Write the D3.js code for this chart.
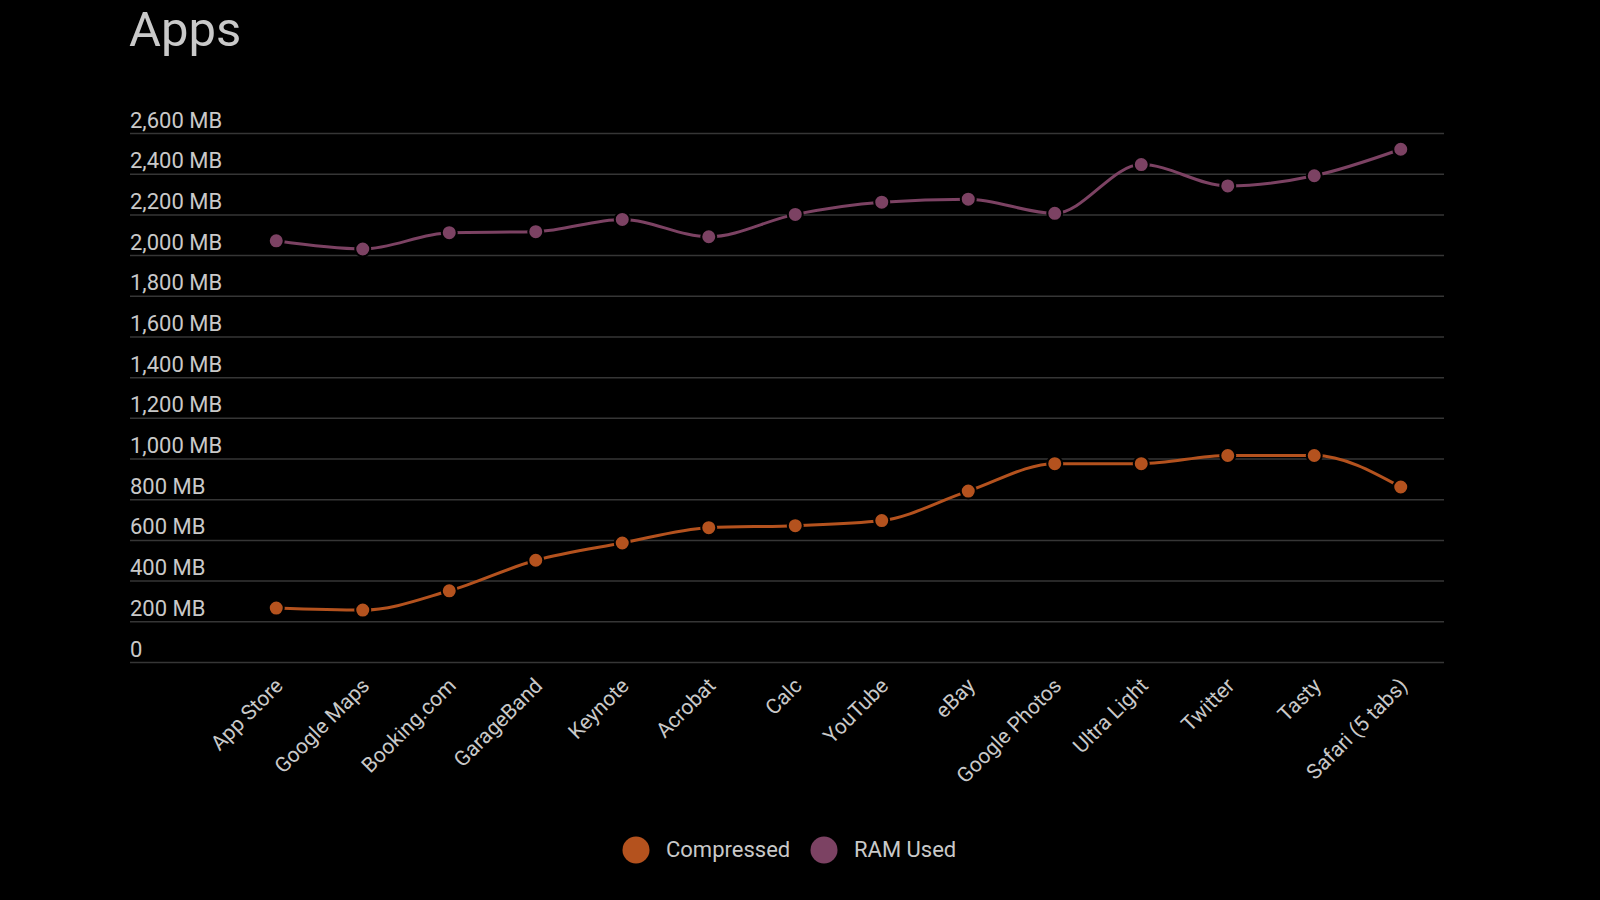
<!DOCTYPE html>
<html>
<head>
<meta charset="utf-8">
<script src="https://cdn.jsdelivr.net/npm/d3@7"></script>
<style>
  html, body { margin: 0; padding: 0; background: #000; }
  svg { display: block; }
  text { font-family: Roboto, "Noto Sans", sans-serif; }
</style>
</head>
<body>
<svg id="chart" width="1600" height="900"></svg>
<script>
var apps = ["App Store", "Google Maps", "Booking.com", "GarageBand", "Keynote", "Acrobat", "Calc",
  "YouTube", "eBay", "Google Photos", "Ultra Light", "Twitter", "Tasty", "Safari (5 tabs)"];
var compressed = [265, 255, 350, 500, 585, 660, 670, 695, 840, 975, 975, 1015, 1015, 860];
var ramUsed = [2070, 2030, 2110, 2115, 2175, 2090, 2200, 2260, 2275, 2205, 2445, 2340, 2390, 2520];
var yTicks = [0, 200, 400, 600, 800, 1000, 1200, 1400, 1600, 1800, 2000, 2200, 2400, 2600];
var seriesNames = ["Compressed", "RAM Used"];
var seriesColors = ["#b4521e", "#7c4263"];

var svg = d3.select("#chart");
var textColor = "#c9c9c9";

svg.append("text")
  .attr("x", 129)
  .attr("y", 46)
  .text("Apps")
  .attr("font-size", "49px")
  .attr("fill", textColor);

var x = d3.scaleBand().domain(apps).range([233, 1444]);
var y = d3.scaleLinear().domain([0, 2600]).range([662, 133]);

// gridlines + labels sitting above each line
var yAxis = svg.append("g")
  .attr("transform", "translate(130,0)")
  .call(d3.axisLeft(y).tickValues(yTicks).tickSize(-(1444 - 130))
    .tickFormat(function(d) { return d === 0 ? "0" : d3.format(",")(d) + " MB"; }));
yAxis.select(".domain").remove();
yAxis.selectAll("line").attr("stroke", "#363636").attr("stroke-width", 1.5);
yAxis.selectAll("text")
  .attr("x", 0)
  .attr("dy", 0)
  .attr("y", -6)
  .attr("text-anchor", "start")
  .attr("font-size", "22px")
  .attr("font-family", "Roboto")
  .attr("fill", textColor);

var xAxis = svg.append("g")
  .attr("transform", "translate(8,687)")
  .call(d3.axisBottom(x).tickSize(0));
xAxis.select(".domain").remove();
xAxis.selectAll("text")
  .attr("y", 0)
  .attr("dy", 0)
  .attr("transform", "rotate(-45)")
  .attr("text-anchor", "end")
  .attr("font-size", "21px")
  .attr("font-family", "Roboto")
  .attr("fill", textColor);

var cx = function(d, i) { return x(apps[i]) + x.bandwidth() / 2; };
var line = d3.line()
  .x(cx)
  .y(function(d) { return y(d); })
  .curve(d3.curveMonotoneX);

[compressed, ramUsed].forEach(function(vals, s) {
  var g = svg.append("g");
  g.append("path")
    .datum(vals)
    .attr("d", line)
    .attr("fill", "none")
    .attr("stroke", seriesColors[s])
    .attr("stroke-width", 3);
  g.selectAll("circle")
    .data(vals)
    .enter().append("circle")
    .attr("cx", cx)
    .attr("cy", function(d) { return y(d); })
    .attr("r", 7.5)
    .attr("fill", seriesColors[s])
    .attr("stroke", "#000")
    .attr("stroke-width", 2);
});

// legend
var legendX = [636, 824];
seriesNames.forEach(function(name, i) {
  svg.append("circle")
    .attr("cx", legendX[i])
    .attr("cy", 850)
    .attr("r", 13.5)
    .attr("fill", seriesColors[i]);
  svg.append("text")
    .attr("x", legendX[i] + 30)
    .attr("y", 857)
    .text(name)
    .attr("font-size", "22px")
    .attr("fill", textColor);
});
</script>
</body>
</html>
